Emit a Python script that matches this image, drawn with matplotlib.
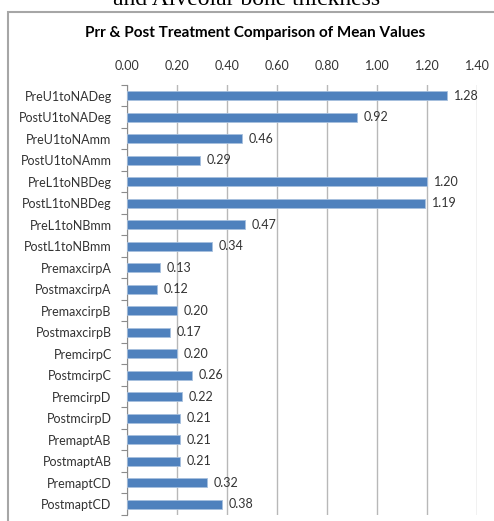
import matplotlib
matplotlib.use("Agg")
import matplotlib.pyplot as plt
from matplotlib.patches import Rectangle
import numpy as np

categories = [
    "PreU1toNADeg", "PostU1toNADeg", "PreU1toNAmm", "PostU1toNAmm",
    "PreL1toNBDeg", "PostL1toNBDeg", "PreL1toNBmm", "PostL1toNBmm",
    "PremaxcirpA", "PostmaxcirpA", "PremaxcirpB", "PostmaxcirpB",
    "PremcirpC", "PostmcirpC", "PremcirpD", "PostmcirpD",
    "PremaptAB", "PostmaptAB", "PremaptCD", "PostmaptCD",
]
values = [
    1.28, 0.92, 0.46, 0.29,
    1.20, 1.19, 0.47, 0.34,
    0.13, 0.12, 0.20, 0.17,
    0.20, 0.26, 0.22, 0.21,
    0.21, 0.21, 0.32, 0.38,
]
x_ticks = [0.0, 0.2, 0.4, 0.6, 0.8, 1.0, 1.2, 1.4]

W, H = 494, 521
fig = plt.figure(figsize=(W / 100, H / 100), dpi=100)
plt.rcParams["font.family"] = ["Lato", "DejaVu Sans"]

# outer chart frame (runs off the right and bottom edges)
fig.patches.append(Rectangle((8 / W, -0.1), 1.2, 1 - 11.5 / H + 0.1,
                             transform=fig.transFigure, fill=False,
                             edgecolor="#a6a6a6", linewidth=1.5))

# cut-off caption line from the page above the chart
fig.text(0.5, 1 - 5 / H, "and Alveolar bone thickness", ha="center",
         va="baseline", fontsize=17, family="Liberation Serif", color="black")

fig.text(255 / W, 1 - 33 / H, "Prr & Post Treatment Comparison of Mean Values",
         ha="center", va="center", fontsize=11, fontweight="bold", color="black")

ax = fig.add_axes([127 / W, 1 - 515 / H, 350 / W, 430 / H])
y = np.arange(len(categories))
ax.barh(y, values, height=0.4, color="#4f81bd", edgecolor="#a7c0de",
        linewidth=0.6, zorder=3)

for yi, v in zip(y, values):
    ax.text(v + 0.028, yi, f"{v:.2f}", va="center", ha="left",
            fontsize=9, color="#333333", zorder=4)

ax.set_xlim(0, 1.4)
ax.set_ylim(len(categories) - 0.5, -0.5)
ax.set_xticks(x_ticks)
ax.set_xticklabels([f"{t:.2f}" for t in x_ticks], fontsize=9, color="#333333")
ax.xaxis.tick_top()
ax.tick_params(axis="x", length=0, pad=9)
ax.grid(axis="x", color="#b8b8b8", linewidth=1, zorder=0)

ax.set_yticks(y)
ax.set_yticklabels(categories, fontsize=9, color="#333333")
ax.set_yticks(np.arange(len(categories) + 1) - 0.5, minor=True)
ax.tick_params(axis="y", which="major", length=0, pad=11)
ax.tick_params(axis="y", which="minor", length=4, color="#8c8c8c", width=0.8)

for side in ["top", "right", "bottom"]:
    ax.spines[side].set_visible(False)
ax.spines["left"].set_color("#8c8c8c")
ax.spines["left"].set_linewidth(0.8)

fig.savefig("out.png", dpi=100)
